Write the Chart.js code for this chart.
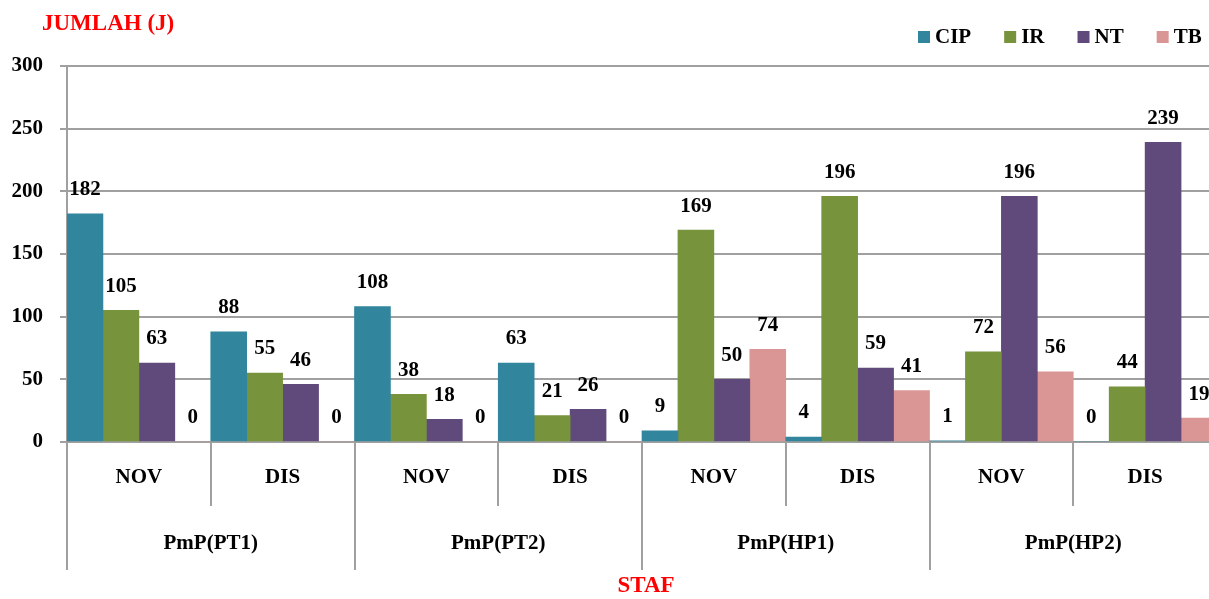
<!DOCTYPE html>
<html>
<head>
<meta charset="utf-8">
<script src="https://cdn.jsdelivr.net/npm/chart.js@4.4.1/dist/chart.umd.min.js"></script>
<style>
html,body{margin:0;padding:0;overflow:hidden;background:#fff;}
#wrap{width:1230px;height:599px;position:relative;}
</style>
</head>
<body>
<div id="wrap"><canvas id="c"></canvas></div>
<script>
const categories = ['NOV','DIS','NOV','DIS','NOV','DIS','NOV','DIS'];
const groups = ['PmP(PT1)','PmP(PT2)','PmP(HP1)','PmP(HP2)'];
const seriesNames = ['CIP','IR','NT','TB'];
const cip = [182, 88, 108, 63, 9, 4, 1, 0];
const ir  = [105, 55, 38, 21, 169, 196, 72, 44];
const nt  = [63, 46, 18, 26, 50, 59, 196, 239];
const tb  = [0, 0, 0, 0, 74, 41, 56, 19];
const yTicks = [0, 50, 100, 150, 200, 250, 300];
const yTitle = 'JUMLAH (J)';
const xTitle = 'STAF';

const colors = ['#31859C','#77933C','#604A7B','#D99694'];
const FONT = '"Liberation Serif", "Times New Roman", serif';

const overlay = {
  id:'overlay',
  afterDraw(chart){
    const ctx = chart.ctx;
    const ca = chart.chartArea;
    const xs = chart.scales.x;
    ctx.save();
    // value labels
    ctx.font = 'bold 21px ' + FONT;
    ctx.fillStyle = '#000';
    ctx.textAlign = 'center';
    ctx.textBaseline = 'middle';
    chart.data.datasets.forEach((ds, di) => {
      const meta = chart.getDatasetMeta(di);
      meta.data.forEach((bar, i) => {
        ctx.fillText(String(ds.data[i]), bar.x, bar.y - 24);
      });
    });
    // x-axis separators
    const n = categories.length;
    const catW = (ca.right - ca.left) / n;
    ctx.strokeStyle = '#a0a0a0';
    ctx.lineWidth = 2;
    for (let i = 0; i <= n; i++) {
      const x = Math.round(ca.left + i * catW);
      const yEnd = (i % 2 === 0) ? 570 : 506;
      ctx.beginPath();
      ctx.moveTo(x, ca.bottom);
      ctx.lineTo(x, yEnd);
      ctx.stroke();
    }
    // category labels
    ctx.fillStyle = '#000';
    ctx.font = 'bold 21px ' + FONT;
    categories.forEach((c, i) => {
      ctx.fillText(c, xs.getPixelForValue(i), 478);
    });
    groups.forEach((g, gi) => {
      const x = ca.left + (gi * 2 + 1) * catW;
      ctx.fillText(g, x, 544);
    });
    // titles
    ctx.fillStyle = '#ff0000';
    ctx.font = 'bold 23px ' + FONT;
    ctx.textAlign = 'left';
    ctx.fillText(yTitle, 42, 24);
    ctx.textAlign = 'center';
    ctx.fillText(xTitle, 646, 586);
    // legend
    ctx.font = 'bold 21px ' + FONT;
    ctx.textAlign = 'left';
    let lx = 918;
    seriesNames.forEach((s, i) => {
      ctx.fillStyle = colors[i];
      ctx.fillRect(lx, 31, 12, 12);
      ctx.fillStyle = '#000';
      ctx.fillText(s, lx + 17, 38);
      lx += 17 + ctx.measureText(s).width + 33;
    });
    ctx.restore();
  }
};

new Chart(document.getElementById('c'), {
  type: 'bar',
  data: {
    labels: categories,
    datasets: [cip, ir, nt, tb].map((d, i) => ({
      label: seriesNames[i],
      data: d,
      backgroundColor: colors[i],
      borderWidth: 0,
      barPercentage: 1,
      categoryPercentage: 1
    }))
  },
  options: {
    responsive: true,
    maintainAspectRatio: false,
    animation: false,
    layout: { padding: { left: 0, right: 13, top: 66, bottom: 157 } },
    plugins: { legend: { display: false }, tooltip: { enabled: false } },
    scales: {
      x: { display: false },
      y: {
        min: 0, max: 300,
        afterFit(scale){ scale.width = 67; },
        afterBuildTicks(scale){ scale.ticks = yTicks.map(v => ({value: v})); },
        ticks: { color: '#000', padding: 17, font: { family: FONT, size: 21, weight: 'bold' } },
        grid: { color: '#a0a0a0', lineWidth: 2, tickLength: 7 },
        border: { color: '#a0a0a0', width: 2 }
      }
    }
  },
  plugins: [overlay]
});
</script>
</body>
</html>
